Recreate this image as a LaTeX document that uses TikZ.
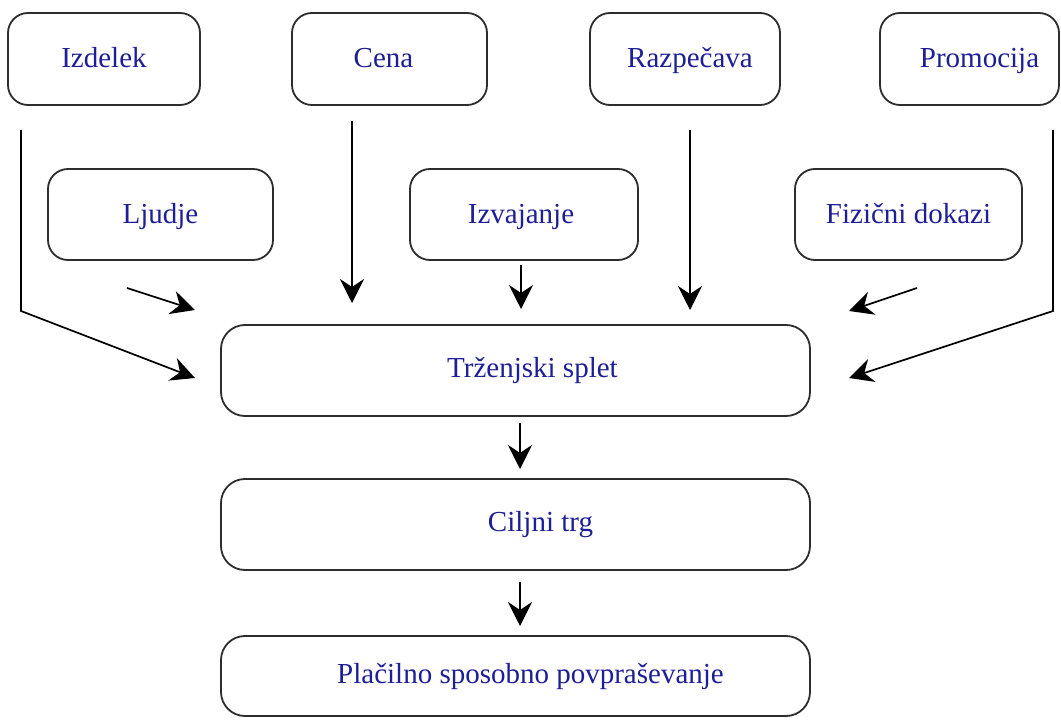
\documentclass[tikz,border=0pt]{standalone}
\usepackage{fontspec}
\setmainfont{Liberation Serif}
\usetikzlibrary{arrows.meta}
\definecolor{txtblue}{RGB}{30,30,150}
\definecolor{edgegray}{RGB}{45,45,45}
\begin{document}
\begin{tikzpicture}[x=1pt,y=-1pt,
  box/.style={draw=edgegray, line width=1.8pt, rounded corners=20pt, fill=white, inner sep=0pt},
  lbl/.style={font=\fontsize{29}{34}\selectfont, text=txtblue, inner sep=0pt, text height=20pt, text depth=6pt},
  conn/.style={line width=1.7pt, -{Stealth[length=24pt,width=24pt,inset=8pt]}},
]
\path[use as bounding box, fill=white] (0,0) rectangle (1061,722);

% top row
\node[box, minimum width=192pt, minimum height=92pt, label={[lbl,yshift=-2pt]center:Izdelek}] (izdelek) at (104,59) {};
\node[box, minimum width=195pt, minimum height=92pt, label={[lbl,xshift=-6pt,yshift=-2pt]center:Cena}] (cena) at (389.5,59) {};
\node[box, minimum width=190pt, minimum height=92pt, label={[lbl,xshift=5pt,yshift=-2pt]center:Razpečava}] (razpecava) at (685,59) {};
\node[box, minimum width=179pt, minimum height=92pt, label={[lbl,xshift=10pt,yshift=-2pt]center:Promocija}] (promocija) at (969.5,59) {};

% second row
\node[box, minimum width=225pt, minimum height=91pt, label={[lbl,yshift=-2pt]center:Ljudje}] (ljudje) at (160.5,214.5) {};
\node[box, minimum width=228pt, minimum height=91pt, label={[lbl,xshift=-3pt,yshift=-2pt]center:Izvajanje}] (izvajanje) at (524,214.5) {};
\node[box, minimum width=227pt, minimum height=91pt, label={[lbl,yshift=-2pt]center:Fizični dokazi}] (fizicni) at (908.5,214.5) {};

% central column
\node[box, rounded corners=24pt, minimum width=589pt, minimum height=91pt, label={[lbl,xshift=17pt]center:Trženjski splet}] (trzen) at (515.5,370.5) {};
\node[box, rounded corners=24pt, minimum width=589pt, minimum height=91pt, label={[lbl,xshift=25pt]center:Ciljni trg}] (ciljni) at (515.5,524.5) {};
\node[box, rounded corners=24pt, minimum width=589pt, minimum height=80pt, label={[lbl,xshift=15pt]center:Plačilno sposobno povpraševanje}] (placilno) at (515.5,676) {};

% connector end points
\coordinate (izS) at (21,130);
\coordinate (izK) at (21,311);
\coordinate (izE) at (195,378);
\coordinate (ljS) at (127,288);
\coordinate (ljE) at (195,310);
\coordinate (ceS) at (352,121);
\coordinate (ceE) at (352,303);
\coordinate (ivS) at (521,265);
\coordinate (ivE) at (521,309);
\coordinate (rzS) at (690,130);
\coordinate (rzE) at (690,310);
\coordinate (fzS) at (917,288);
\coordinate (fzE) at (849,311);
\coordinate (prS) at (1053,130);
\coordinate (prK) at (1053,311);
\coordinate (prE) at (849,378);
\coordinate (trS) at (520,423);
\coordinate (trE) at (520,469);
\coordinate (ciS) at (520,582);
\coordinate (ciE) at (520,626);

\draw[conn] (izS) -- (izK) -- (izE);
\draw[conn] (ljS) -- (ljE);
\draw[conn] (ceS) -- (ceE);
\draw[conn] (ivS) -- (ivE);
\draw[conn] (rzS) -- (rzE);
\draw[conn] (fzS) -- (fzE);
\draw[conn] (prS) -- (prK) -- (prE);
\draw[conn] (trS) -- (trE);
\draw[conn] (ciS) -- (ciE);
\end{tikzpicture}
\end{document}
